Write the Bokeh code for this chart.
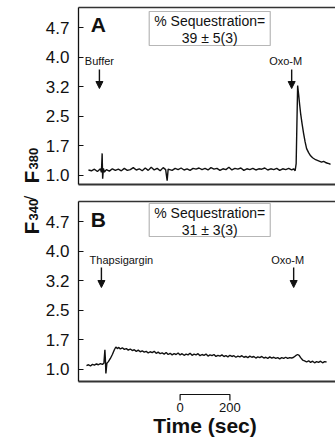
import math
from bokeh.plotting import figure
from bokeh.models import Range1d, FixedTicker, LinearAxis, Arrow, NormalHead, BoxAnnotation, Label
from bokeh.layouts import row, column
from bokeh.core.properties import value
from bokeh.embed import file_html
from bokeh.resources import INLINE

FONT = "Liberation Sans"

# ---------------- data ----------------
A_T = [0, 12, 24, 36, 48, 52, 55, 57, 60, 64, 72, 84, 96, 108, 120, 132, 144, 156, 168, 180,
       192, 204, 216, 228, 240, 252, 264, 276, 288, 300, 310, 316, 320, 336, 348, 360, 372, 384,
       396, 408, 420, 432, 444, 456, 468, 480, 492, 504, 516, 528, 540, 552, 564, 576, 588, 600,
       612, 624, 636, 648, 660, 672, 684, 696, 708, 720, 732, 744, 756, 768, 780, 792, 804, 816,
       824, 830, 834, 837, 840, 844, 848, 852, 858, 864, 870, 876, 884, 892, 900, 912, 924, 936,
       944, 952, 960, 966, 972]
A_R = [1.14, 1.12, 1.16, 1.10, 1.17, 1.08, 1.56, 0.92, 1.18, 1.09, 1.15, 1.11, 1.17, 1.13, 1.16,
       1.12, 1.18, 1.13, 1.15, 1.20, 1.14, 1.17, 1.12, 1.19, 1.13, 1.21, 1.14, 1.18, 1.12, 1.20,
       1.15, 0.87, 1.16, 1.13, 1.18, 1.15, 1.19, 1.14, 1.17, 1.13, 1.18, 1.16, 1.19, 1.15, 1.18,
       1.14, 1.20, 1.16, 1.18, 1.13, 1.17, 1.15, 1.21, 1.14, 1.18, 1.16, 1.19, 1.13, 1.17, 1.15,
       1.18, 1.14, 1.17, 1.16, 1.19, 1.14, 1.17, 1.15, 1.18, 1.13, 1.17, 1.15, 1.18, 1.14, 1.17,
       1.12, 1.30, 2.30, 3.28, 3.05, 2.80, 2.57, 2.30, 2.06, 1.85, 1.68, 1.58, 1.50, 1.45, 1.40,
       1.37, 1.34, 1.36, 1.33, 1.31, 1.30, 1.28]

B_T = [-8, 0, 8, 16, 24, 32, 40, 48, 56, 62, 66, 68, 70, 74, 80, 88, 96, 104, 110, 116, 122,
       128, 136, 144, 152, 160, 168, 176, 184, 192, 200, 208, 216, 224, 232, 240, 248, 256, 264,
       272, 280, 288, 296, 304, 312, 320, 328, 336, 344, 352, 360, 368, 376, 384, 392, 400, 408,
       416, 424, 432, 440, 448, 456, 464, 472, 480, 488, 496, 504, 512, 520, 528, 536, 544, 552,
       560, 568, 576, 584, 592, 600, 608, 616, 624, 632, 640, 648, 656, 664, 672, 680, 688, 696,
       704, 712, 720, 728, 736, 744, 752, 760, 768, 776, 784, 792, 800, 808, 816, 824, 832, 840,
       846, 852, 860, 868, 876, 884, 892, 900, 908, 916, 924, 932, 940, 948, 956]
B_R = [1.10, 1.12, 1.09, 1.13, 1.11, 1.14, 1.12, 1.15, 1.13, 1.16, 1.50, 1.25, 0.90, 1.16, 1.20,
       1.28, 1.38, 1.50, 1.57, 1.53, 1.56, 1.52, 1.55, 1.51, 1.53, 1.49, 1.52, 1.48, 1.50, 1.46,
       1.49, 1.45, 1.47, 1.44, 1.46, 1.42, 1.45, 1.43, 1.46, 1.41, 1.44, 1.40, 1.42, 1.39, 1.43,
       1.38, 1.41, 1.37, 1.40, 1.38, 1.42, 1.37, 1.40, 1.36, 1.39, 1.37, 1.41, 1.36, 1.39, 1.37,
       1.40, 1.35, 1.38, 1.36, 1.39, 1.34, 1.37, 1.35, 1.38, 1.33, 1.36, 1.34, 1.37, 1.33, 1.35,
       1.32, 1.36, 1.33, 1.35, 1.31, 1.34, 1.32, 1.35, 1.31, 1.33, 1.30, 1.34, 1.31, 1.33, 1.29,
       1.32, 1.30, 1.33, 1.29, 1.31, 1.28, 1.32, 1.29, 1.31, 1.28, 1.30, 1.27, 1.30, 1.28, 1.31,
       1.28, 1.30, 1.29, 1.31, 1.35, 1.38, 1.36, 1.30, 1.24, 1.22, 1.19, 1.22, 1.18, 1.21, 1.17,
       1.20, 1.18, 1.21, 1.17, 1.20, 1.19]

TICK_VALUES = [1.0, 1.75, 2.5, 3.25, 4.0, 4.75]
TICK_LABELS = ["1.0", "1.7", "2.5", "3.2", "4.0", "4.7"]

A_EVENTS = ["Buffer", "Oxo-M"]
A_EVENT_T = [44, 816]
B_EVENTS = ["Thapsigargin", "Oxo-M"]
B_EVENT_T = [52, 824]

SEQ_TITLE = "% Sequestration="
SEQ_A = "39 \u00b1 5(3)"
SEQ_B = "31 \u00b1 3(3)"

SCALE_T = [0, 200]
SCALE_LABELS = ["0", "200"]
X_LABEL = "Time (sec)"

# ---------------- layout ----------------
X_RANGE = (-40, 992)
PX = 0.02534   # ratio units per screen pixel
Y_END = 5.257
INK = "#111111"
LW = 42        # width of the label strip
PW = 335 - LW  # width of the panel column
BL = 77 - LW   # left border inside panels


def make_panel(t, r, letter, events, ev_t, ev_dx, seq, height, top, bottom, ystart, lay):
    p = figure(width=PW, height=height, output_backend="svg", toolbar_location=None,
               x_range=Range1d(*X_RANGE), y_range=Range1d(ystart, Y_END),
               x_axis_location=None, y_axis_location="left",
               min_border_left=BL, min_border_right=0, min_border_top=top,
               min_border_bottom=bottom, outline_line_color=None,
               background_fill_color="white", border_fill_color="white")
    for g in p.grid:
        g.visible = False
    ax = p.yaxis[0]
    ax.ticker = FixedTicker(ticks=TICK_VALUES)
    ax.major_label_overrides = {v: s for v, s in zip(TICK_VALUES, TICK_LABELS)}
    ax.major_tick_in = 5
    ax.major_tick_out = 0
    ax.minor_tick_line_color = None
    ax.major_tick_line_color = INK
    ax.major_tick_line_width = 1.2
    ax.axis_line_color = INK
    ax.axis_line_width = 1.3
    ax.major_label_text_font = FONT
    ax.major_label_text_font_size = "17px"
    ax.major_label_text_color = INK
    ax.major_label_standoff = 9

    for loc, lw in (("below", 2.2), ("above", 1.5)):
        a = LinearAxis(ticker=FixedTicker(ticks=[]), major_label_text_font_size="0px",
                       major_tick_line_color=None, minor_tick_line_color=None,
                       axis_line_color="#333333", axis_line_width=lw)
        p.add_layout(a, loc)

    def v(py):
        return Y_END - py * PX

    p.line(t, r, line_color=INK, line_width=1.4)

    p.add_layout(Label(x=40, y=v(lay["letter"]), text=letter, text_font=FONT,
                       text_font_style="bold", text_font_size="21px", text_color=INK,
                       text_align="center", text_baseline="middle"))

    p.add_layout(BoxAnnotation(left=244, right=730, top=v(lay["box"][0]), bottom=v(lay["box"][1]),
                               fill_color="white", fill_alpha=1.0, line_color=INK, line_width=1.2))
    p.add_layout(Label(x=487, y=v(lay["seq"][0]), text=SEQ_TITLE, text_font=FONT,
                       text_font_size="14px", text_color=INK, text_align="center",
                       text_baseline="middle"))
    p.add_layout(Label(x=487, y=v(lay["seq"][1]), text=seq, text_font=FONT,
                       text_font_size="14px", text_color=INK, text_align="center",
                       text_baseline="middle"))

    for name, et, dx in zip(events, ev_t, ev_dx):
        p.add_layout(Label(x=et, y=v(lay["ev"]), x_offset=dx, text=name, text_font=FONT,
                           text_font_size="11px", text_color=INK, text_align="center",
                           text_baseline="middle"))
        p.add_layout(Arrow(x_start=et, x_end=et, y_start=v(lay["arrow"][0]), y_end=v(lay["arrow"][1]),
                           line_color=INK, line_width=1.4,
                           end=NormalHead(size=7, fill_color=INK, line_color=INK, line_width=1)))
    return p


pA = make_panel(A_T, A_R, "A", A_EVENTS, A_EVENT_T, [0, -6], SEQ_A,
                height=192, top=7, bottom=8, ystart=1.0 - 9 * PX,
                lay=dict(letter=17, box=(4, 38), seq=(13, 30), ev=53, arrow=(62, 81)))
pB = make_panel(B_T, B_R, "B", B_EVENTS, B_EVENT_T, [20, -6], SEQ_B,
                height=196, top=9, bottom=7, ystart=1.0 - 12 * PX,
                lay=dict(letter=18, box=(2, 35), seq=(11, 28), ev=58, arrow=(66, 86)))

# time scale bar
ps = figure(width=PW, height=52, output_backend="svg", toolbar_location=None,
            x_range=Range1d(*X_RANGE), y_range=Range1d(0, 52),
            x_axis_location=None, y_axis_location=None,
            min_border_left=BL, min_border_right=0, min_border_top=0, min_border_bottom=0,
            outline_line_color=None, background_fill_color="white", border_fill_color="white")
for g in ps.grid:
    g.visible = False
SCALE_START = 368
s0 = SCALE_START + SCALE_T[0]
s1 = SCALE_START + SCALE_T[1]
ps.line([s0, s0, s1, s1], [40, 46, 46, 40], line_color=INK, line_width=1.2)
ps.text([s0, s1], [33, 33], text=SCALE_LABELS, text_font=value(FONT), text_font_size="13px",
        text_color=INK, text_align="center", text_baseline="middle")
ps.text([(s0 + s1) / 2], [15], text=[X_LABEL], text_font=value(FONT), text_font_size="21px",
        text_font_style="bold", text_color=INK, text_align="center", text_baseline="middle")

# rotated y label
pl = figure(width=LW, height=440, output_backend="svg", toolbar_location=None,
            x_range=Range1d(0, LW), y_range=Range1d(0, 440),
            x_axis_location=None, y_axis_location=None,
            min_border_left=0, min_border_right=0, min_border_top=0, min_border_bottom=0,
            outline_line_color=None, background_fill_color="white", border_fill_color="white")
for g in pl.grid:
    g.visible = False
pieces = [("F", 234, "21px", "bold", 31), ("340", 220, "13px", "bold", 33),
          ("/", 200, "17px", "normal", 30), ("F", 183, "21px", "bold", 31),
          ("380", 169, "13px", "bold", 33)]
for txt, py, fs, st, bx in pieces:
    pl.text([bx], [440 - py], text=[txt], angle=math.pi / 2, text_font=value(FONT),
            text_font_size=fs, text_font_style=st, text_color=INK,
            text_align="left", text_baseline="alphabetic")

layout = row(pl, column(pA, pB, ps))
open("out.html", "w").write(file_html(layout, INLINE))
